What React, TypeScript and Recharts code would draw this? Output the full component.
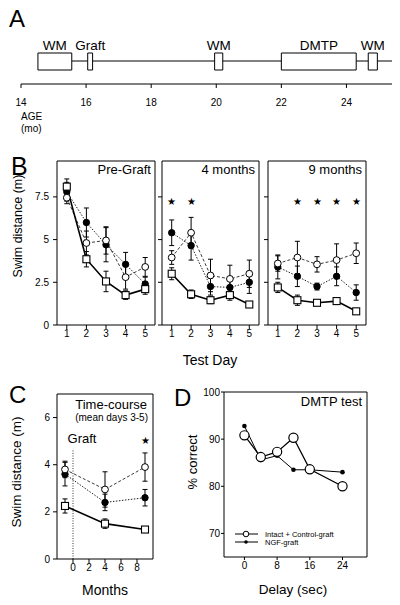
import React from "react";
import {
  ComposedChart,
  Line,
  XAxis,
  YAxis,
  ErrorBar,
  ReferenceArea,
  ReferenceLine,
  ReferenceDot,
} from "recharts";

const FONT = "'Liberation Sans', Arial, Helvetica, sans-serif";

// A: timeline (age in months)
const ageTicks = [14, 16, 18, 20, 22, 24];
const phaseNames = ["WM", "Graft", "WM", "DMTP", "WM"];
const phaseStart = [14.52, 16.05, 19.95, 22.0, 24.67];
const phaseEnd = [15.56, 16.2, 20.2, 24.3, 24.95];
const ageEnd = 25.4;

// B: swim distance (m) per test day
const testDays = [1, 2, 3, 4, 5];
const swimTicks = [0, 2.5, 5, 7.5];

const preYoung = [8.1, 3.85, 2.55, 1.75, 2.1];
const preYoungErr = [0.45, 0.45, 0.6, 0.25, 0.3];
const preControl = [7.45, 4.8, 4.95, 2.8, 3.4];
const preControlErr = [0.35, 0.7, 0.8, 0.7, 0.55];
const preNgf = [7.8, 6.0, 4.7, 3.55, 2.4];
const preNgfErr = [0.55, 0.85, 1.0, 0.7, 0.4];

const m4Young = [3.0, 1.8, 1.45, 1.75, 1.2];
const m4YoungErr = [0.35, 0.25, 0.2, 0.3, 0.1];
const m4Control = [3.95, 5.4, 2.9, 2.7, 3.0];
const m4ControlErr = [0.4, 0.9, 0.95, 0.8, 0.8];
const m4Ngf = [5.4, 4.65, 2.25, 2.2, 2.5];
const m4NgfErr = [0.75, 0.85, 0.5, 0.45, 0.65];

const m9Young = [2.2, 1.45, 1.3, 1.4, 0.8];
const m9YoungErr = [0.3, 0.3, 0.1, 0.1, 0.1];
const m9Control = [3.6, 3.95, 3.55, 3.8, 4.2];
const m9ControlErr = [0.45, 0.95, 0.45, 0.95, 0.6];
const m9Ngf = [3.4, 2.85, 2.25, 2.85, 1.9];
const m9NgfErr = [0.7, 0.6, 0.2, 0.55, 0.45];

const m4Stars = [1, 2];
const m9Stars = [2, 3, 4, 5];

// C: time-course, mean of days 3-5
const months = [-1, 4, 9];
const monthTicks = [0, 2, 4, 6, 8];
const courseTicks = [0, 2, 4, 6];
const courseYoung = [2.25, 1.5, 1.25];
const courseYoungErr = [0.3, 0.2, 0.1];
const courseControl = [3.8, 2.95, 3.9];
const courseControlErr = [0.35, 0.75, 0.6];
const courseNgf = [3.6, 2.4, 2.6];
const courseNgfErr = [0.5, 0.35, 0.35];
const courseStars = [9];

// D: DMTP % correct by delay
const delays = [0, 4, 8, 12, 16, 24];
const delayTicks = [0, 8, 16, 24];
const correctTicks = [70, 80, 90, 100];
const dmtpControl = [90.8, 86.2, 87.3, 90.3, 83.6, 80.0];
const dmtpNgf = [92.8, 85.6, 86.5, 83.5, 83.5, 83.0];

// timeline strip in axis units (-10..44)
const BOX_LOW = 14;
const BOX_HIGH = 31;
const LINE_Y = 23;

// timeline plot box in page px (used for the age axis drawn in the overlay)
const A_LEFT = 21;
const A_RIGHT = 392;
const A_AXIS_Y = 84;
const agePx = (a: number) => A_LEFT + ((a - ageTicks[0]) / (ageEnd - ageTicks[0])) * (A_RIGHT - A_LEFT);

// the track runs between boxes; a null in the middle of each box breaks it
const trackRows: { age: number; track: number | null }[] = [];
phaseStart.forEach((s, i) => {
  trackRows.push({ age: s, track: null });
  trackRows.push({ age: (s + phaseEnd[i]) / 2, track: null });
  trackRows.push({ age: phaseEnd[i], track: LINE_Y });
  trackRows.push({ age: i < phaseStart.length - 1 ? phaseStart[i + 1] : ageEnd, track: LINE_Y });
});

const groupRows = (
  xs: number[],
  young: number[],
  youngErr: number[],
  control: number[],
  controlErr: number[],
  ngf: number[],
  ngfErr: number[]
) =>
  xs.map((x, i) => ({
    x,
    young: young[i],
    youngErr: youngErr[i],
    control: control[i],
    controlErr: controlErr[i],
    ngf: ngf[i],
    ngfErr: ngfErr[i],
  }));

const preRows = groupRows(testDays, preYoung, preYoungErr, preControl, preControlErr, preNgf, preNgfErr);
const m4Rows = groupRows(testDays, m4Young, m4YoungErr, m4Control, m4ControlErr, m4Ngf, m4NgfErr);
const m9Rows = groupRows(testDays, m9Young, m9YoungErr, m9Control, m9ControlErr, m9Ngf, m9NgfErr);
const courseRows = groupRows(months, courseYoung, courseYoungErr, courseControl, courseControlErr, courseNgf, courseNgfErr);
const dmtpRows = delays.map((d, i) => ({ d, control: dmtpControl[i], ngf: dmtpNgf[i] }));

const tickStyle = { fontSize: 10, fill: "#000" };
const SWIM_MAX = 9.6;
const STAR_Y = 7.25;

const OpenSquare = (p: any) => (
  <rect key={`sq${p.index}`} x={p.cx - 3.5} y={p.cy - 3.5} width={7} height={7} fill="#fff" stroke="#000" strokeWidth={1.1} />
);
const OpenCircle = (p: any) => (
  <circle key={`oc${p.index}`} cx={p.cx} cy={p.cy} r={3.4} fill="#fff" stroke="#000" strokeWidth={1} />
);
const FilledCircle = (p: any) => (
  <circle key={`fc${p.index}`} cx={p.cx} cy={p.cy} r={3.2} fill="#000" stroke="#000" />
);
const BigOpenCircle = (p: any) => (
  <circle key={`bo${p.index}`} cx={p.cx} cy={p.cy} r={4.6} fill="#fff" stroke="#000" strokeWidth={1.2} />
);
const SmallDot = (p: any) => (
  <circle key={`sd${p.index}`} cx={p.cx} cy={p.cy} r={2.3} fill="#000" />
);

const starLabel = { value: "★", position: "center" as const, fontSize: 10, fill: "#000" };

function groupLines() {
  return [
    <Line key="ngf" dataKey="ngf" type="linear" stroke="#222" strokeWidth={1} strokeDasharray="1.5 1.5" dot={FilledCircle} activeDot={false} isAnimationActive={false}>
      <ErrorBar dataKey="ngfErr" width={2.5} stroke="#000" strokeWidth={1} direction="y" />
    </Line>,
    <Line key="control" dataKey="control" type="linear" stroke="#222" strokeWidth={0.9} strokeDasharray="3 2" dot={OpenCircle} activeDot={false} isAnimationActive={false}>
      <ErrorBar dataKey="controlErr" width={2.5} stroke="#000" strokeWidth={1} direction="y" />
    </Line>,
    <Line key="young" dataKey="young" type="linear" stroke="#000" strokeWidth={1.6} dot={OpenSquare} activeDot={false} isAnimationActive={false}>
      <ErrorBar dataKey="youngErr" width={2.5} stroke="#000" strokeWidth={1} direction="y" />
    </Line>,
  ];
}

function SwimPanel({
  left,
  width,
  axisWidth,
  showLabels,
  rightWidth,
  title,
  stars,
  data,
}: {
  left: number;
  width: number;
  axisWidth: number;
  showLabels: boolean;
  rightWidth: number;
  title: string;
  stars: number[];
  data: any[];
}) {
  return (
    <div style={{ position: "absolute", left, top: 150 }}>
      <ComposedChart width={width} height={200} data={data} margin={{ top: 11, right: rightWidth > 0 ? 0 : 5, bottom: 0, left: 0 }}>
        <XAxis dataKey="x" type="number" domain={[0.5, 5.5]} ticks={testDays} stroke="#000" axisLine={false} tickSize={4} tickMargin={1} tick={tickStyle} height={25} />
        <YAxis type="number" domain={[0, SWIM_MAX]} ticks={swimTicks} width={axisWidth} stroke="#000" axisLine={false} tickSize={4} tickMargin={4} tick={tickStyle} tickFormatter={showLabels ? undefined : () => ""} />
        {rightWidth > 0 && (
          <YAxis yAxisId="r" orientation="right" type="number" domain={[0, SWIM_MAX]} ticks={swimTicks} width={rightWidth} stroke="#000" axisLine={false} tickSize={4} tickMargin={1} tick={{ ...tickStyle, textAnchor: "start" }} />
        )}
        <ReferenceArea x1={0.5} x2={5.5} y1={0} y2={SWIM_MAX} fill="none" stroke="#000" strokeWidth={1} label={{ value: title, position: "insideTopRight", offset: 4, fontSize: 13, fill: "#000" }} />
        {stars.map((d) => (
          <ReferenceDot key={d} x={d} y={STAR_Y} r={1} fill="none" stroke="none" label={starLabel} />
        ))}
        {groupLines()}
      </ComposedChart>
    </div>
  );
}

export default function App() {
  return (
    <div style={{ position: "absolute", left: 0, top: 0, width: 400, height: 605, background: "#fff", fontFamily: FONT, color: "#000", overflow: "hidden" }}>
      {/* A */}
      <div style={{ position: "absolute", left: 0, top: 0 }}>
        <ComposedChart width={400} height={120} data={trackRows} margin={{ top: 40, right: 8, bottom: 0, left: 21 }}>
          <XAxis dataKey="age" type="number" domain={[14, ageEnd]} ticks={ageTicks} axisLine={false} tickLine={false} tickSize={0} tickMargin={5} tick={tickStyle} height={26} />
          <YAxis type="number" domain={[-10, 44]} width={0} tick={false} axisLine={false} tickLine={false} />
          <Line dataKey="track" type="linear" stroke="#000" strokeWidth={1} dot={false} activeDot={false} connectNulls={false} isAnimationActive={false} />
          {phaseNames.map((name, i) => (
            <ReferenceArea
              key={`box${i}`}
              x1={phaseStart[i]}
              x2={phaseEnd[i]}
              y1={BOX_LOW}
              y2={BOX_HIGH}
              fill="#fff"
              fillOpacity={1}
              stroke="#000"
              strokeWidth={1}
              label={{ value: name, position: "top", offset: 3, fontSize: 13.5, fill: "#000" }}
            />
          ))}
        </ComposedChart>
      </div>

      {/* B */}
      <SwimPanel left={0} width={160} axisWidth={57} showLabels rightWidth={0} title="Pre-Graft" stars={[]} data={preRows} />
      <SwimPanel left={157} width={107} axisWidth={5} showLabels={false} rightWidth={0} title="4 months" stars={m4Stars} data={m4Rows} />
      <SwimPanel left={263} width={137} axisWidth={5} showLabels={false} rightWidth={34} title="9 months" stars={m9Stars} data={m9Rows} />

      {/* C */}
      <div style={{ position: "absolute", left: 0, top: 385 }}>
        <ComposedChart width={160} height={194} data={courseRows} margin={{ top: 9, right: 7, bottom: 0, left: 0 }}>
          <XAxis dataKey="x" type="number" domain={[-2, 10]} ticks={monthTicks} stroke="#000" axisLine={false} tickSize={4} tickMargin={1} tick={tickStyle} height={20} />
          <YAxis type="number" domain={[0, 7]} ticks={courseTicks} width={57} stroke="#000" axisLine={false} tickSize={4} tickMargin={3} tick={tickStyle} />
          <ReferenceArea x1={-2} x2={10} y1={0} y2={7} fill="none" stroke="#000" strokeWidth={1} />
          <ReferenceLine segment={[{ x: 0, y: 0 }, { x: 0, y: 4.67 }]} stroke="#000" strokeWidth={0.8} strokeDasharray="1 1.5" />
          {courseStars.map((m) => (
            <ReferenceDot key={m} x={m} y={5.05} r={1} fill="none" stroke="none" label={starLabel} />
          ))}
          {groupLines()}
        </ComposedChart>
      </div>

      {/* D */}
      <div style={{ position: "absolute", left: 180, top: 385 }}>
        <ComposedChart width={190} height={194} data={dmtpRows} margin={{ top: 7, right: 3, bottom: 0, left: 0 }}>
          <XAxis dataKey="d" type="number" domain={[-5, 30]} ticks={delayTicks} stroke="#000" axisLine={false} tickSize={3} tickMargin={2} tick={tickStyle} height={22} />
          <YAxis type="number" domain={[65, 100]} ticks={correctTicks} width={44} stroke="#000" axisLine={false} tickSize={3} tickMargin={1} tick={tickStyle} />
          <ReferenceArea x1={-5} x2={30} y1={65} y2={100} fill="none" stroke="#000" strokeWidth={1} label={{ value: "DMTP test", position: "insideTopRight", offset: 5, fontSize: 13, fill: "#000" }} />
          <Line dataKey="ngf" type="linear" stroke="#000" strokeWidth={1} dot={SmallDot} activeDot={false} isAnimationActive={false} />
          <Line dataKey="control" type="linear" stroke="#000" strokeWidth={1.3} dot={BigOpenCircle} activeDot={false} isAnimationActive={false} />
        </ComposedChart>
      </div>

      {/* free text and the age axis of A */}
      <svg width={400} height={605} style={{ position: "absolute", left: 0, top: 0, pointerEvents: "none" }} fontFamily={FONT}>
        <line x1={A_LEFT} y1={A_AXIS_Y} x2={A_RIGHT} y2={A_AXIS_Y} stroke="#000" strokeWidth={1} />
        {ageTicks.map((a) => (
          <line key={a} x1={agePx(a)} y1={A_AXIS_Y} x2={agePx(a)} y2={A_AXIS_Y + 4} stroke="#000" strokeWidth={1} />
        ))}

        <text x={9} y={27} fontSize={24}>A</text>
        <text x={21} y={120} fontSize={10}>AGE</text>
        <text x={21} y={132} fontSize={10}>(mo)</text>

        <text x={11} y={175} fontSize={25}>B</text>
        <text transform="translate(22,226) rotate(-90)" textAnchor="middle" fontSize={12.5}>Swim distance (m)</text>
        <text x={210} y={365} textAnchor="middle" fontSize={14}>Test Day</text>

        <text x={9} y={403} fontSize={24}>C</text>
        <text transform="translate(21,472) rotate(-90)" textAnchor="middle" fontSize={13.5}>Swim distance (m)</text>
        <text x={147} y={409} textAnchor="end" fontSize={13}>Time-course</text>
        <text x={148} y={421} textAnchor="end" fontSize={10}>(mean days 3-5)</text>
        <text x={82} y={443} textAnchor="middle" fontSize={13}>Graft</text>
        <text x={105} y={595} textAnchor="middle" fontSize={14}>Months</text>

        <text x={174} y={406} fontSize={24}>D</text>
        <text transform="translate(197,462) rotate(-90)" textAnchor="middle" fontSize={13}>% correct</text>
        <text x={293} y={594} textAnchor="middle" fontSize={13.5}>Delay (sec)</text>

        <line x1={235} y1={534} x2={258} y2={534} stroke="#000" strokeWidth={1} />
        <circle cx={246} cy={534} r={2.8} fill="#fff" stroke="#000" strokeWidth={1} />
        <text x={265} y={537} fontSize={7.5}>Intact + Control-graft</text>
        <line x1={235} y1={542} x2={258} y2={542} stroke="#000" strokeWidth={1} />
        <circle cx={246} cy={542} r={1.8} fill="#000" />
        <text x={265} y={545} fontSize={7.5}>NGF-graft</text>
      </svg>
    </div>
  );
}
